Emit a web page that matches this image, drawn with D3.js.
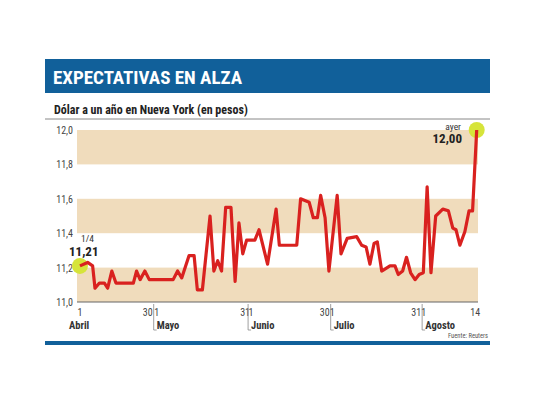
<!DOCTYPE html>
<html><head><meta charset="utf-8">
<script src="https://cdn.jsdelivr.net/npm/d3@7"></script>
<style>body{margin:0;background:#fff}text{font-family:"Roboto Condensed","Liberation Sans Narrow",Roboto,sans-serif}</style>
</head><body><div id="chart"></div>
<script>
// day index since Apr 1 (approx.) and value in pesos
const days = [1,3.6,5.3,6.1,7.6,9.3,10.4,11.8,13.2,19.1,20.2,21.4,23,24.5,32.6,34.1,35.5,38,39.7,40.8,42.5,45.1,46.4,47.7,49,50.4,52.2,53.6,54.9,56.2,57.5,60.3,61.7,64.6,67.5,68.6,74.5,75.8,78.7,80.1,81.5,82.6,84.1,85.4,88.2,89.5,91.6,94.8,96.5,98,99.3,100.7,101.8,103.3,106.1,107.8,108.9,110.4,111.7,113.1,114.6,116,117.4,118.7,120,121.6,124,125.9,127.4,128.5,129.8,131.5,132.9,134.1,135.5]
const values = [11.21,11.23,11.21,11.08,11.11,11.11,11.08,11.18,11.11,11.11,11.18,11.13,11.18,11.13,11.13,11.18,11.14,11.27,11.27,11.07,11.07,11.5,11.18,11.24,11.18,11.55,11.55,11.12,11.46,11.28,11.36,11.36,11.42,11.22,11.54,11.33,11.33,11.6,11.58,11.49,11.49,11.62,11.49,11.18,11.62,11.28,11.37,11.38,11.33,11.32,11.22,11.34,11.35,11.18,11.21,11.21,11.16,11.18,11.26,11.17,11.13,11.16,11.17,11.67,11.17,11.5,11.54,11.53,11.43,11.42,11.33,11.41,11.53,11.53,12.0]
const yTicks = [11.0, 11.2, 11.4, 11.6, 11.8, 12.0]
const bands = [[11.0, 11.2], [11.4, 11.6], [11.8, 12.0]]
const dayTicks = [[1,'1'],[24,'30'],[27,'1'],[57,'31'],[59,'1'],[84,'30'],[86.5,'1'],[115,'31'],[117.5,'1'],[135,'14']]
const months = [[1,'Abril'],[26,'Mayo'],[58,'Junio'],[86,'Julio'],[117,'Agosto']]
const dividers = [26, 58, 86, 117]

const W = 540, H = 405
const svg = d3.select('#chart').append('svg').attr('width', W).attr('height', H)
const x = d3.scaleLinear().domain([0, 135.5]).range([77, 476.7])
const y = d3.scaleLinear().domain([11, 12]).range([302, 130])
const fmt = v => d3.format('.1f')(v).replace('.', ',')

svg.append('rect').attrs = null
svg.append('rect').attr('x', 45).attr('y', 59).attr('width', 445).attr('height', 34).attr('fill', '#11609a')
svg.append('text').attr('x', 53).attr('y', 84).attr('fill', '#fff').attr('font-size', 19).attr('font-weight', 'bold').text('EXPECTATIVAS EN ALZA')
svg.append('text').attr('x', 54).attr('y', 114).attr('font-size', 12).attr('font-weight', 'bold').attr('fill', '#222').text('Dólar a un año en Nueva York (en pesos)')
svg.append('line').attr('x1', 45).attr('x2', 490).attr('y1', 119).attr('y2', 119).attr('stroke', '#888')

svg.selectAll('.band').data(bands).enter().append('rect')
  .attr('x', 77).attr('width', 401)
  .attr('y', d => y(d[1])).attr('height', d => y(d[0]) - y(d[1]))
  .attr('fill', '#f0dcbc')

svg.selectAll('.yl').data(yTicks).enter().append('text')
  .attr('x', 73).attr('y', d => y(d) + 4).attr('text-anchor', 'end')
  .attr('font-size', 10).attr('fill', '#444').text(fmt)

svg.append('line').attr('x1', 77).attr('x2', 478).attr('y1', y(11)).attr('y2', y(11)).attr('stroke', '#666')
svg.selectAll('.xl').data(dayTicks).enter().append('text')
  .attr('x', d => x(d[0])).attr('y', 316).attr('text-anchor', 'middle')
  .attr('font-size', 10).attr('fill', '#444').text(d => d[1])
svg.selectAll('.dv').data(dividers).enter().append('path')
  .attr('d', d => `M${x(d)},304V330H${x(d) + 3}`).attr('fill', 'none').attr('stroke', '#888').attr('stroke-width', 0.8)
svg.selectAll('.ml').data(months).enter().append('text')
  .attr('x', (d, i) => i === 0 ? 69 : x(d[0]) + 3).attr('y', 329)
  .attr('font-size', 10.5).attr('font-weight', 'bold').attr('fill', '#333').text(d => d[1])

const pts = days.map((d, i) => [d, values[i]])
const first = pts[0], last = pts[pts.length - 1]
svg.append('circle').attr('cx', x(first[0])).attr('cy', y(first[1])).attr('r', 8).attr('fill', '#d6e43a')
svg.append('circle').attr('cx', x(last[0])).attr('cy', y(last[1])).attr('r', 8).attr('fill', '#d6e43a')
svg.append('path').datum(pts)
  .attr('d', d3.line().x(d => x(d[0])).y(d => y(d[1])))
  .attr('fill', 'none').attr('stroke', '#d9211f').attr('stroke-width', 3.2).attr('stroke-linejoin', 'round')

svg.append('text').attr('x', 81).attr('y', 242).attr('font-size', 9.5).attr('fill', '#333').text('1/4')
svg.append('text').attr('x', 69).attr('y', 256).attr('font-size', 13).attr('font-weight', 'bold').attr('fill', '#222').text('11,21')
svg.append('text').attr('x', 461).attr('y', 130).attr('font-size', 9.5).attr('fill', '#333').attr('text-anchor', 'end').text('ayer')
svg.append('text').attr('x', 462).attr('y', 143).attr('font-size', 13).attr('font-weight', 'bold').attr('fill', '#222').attr('text-anchor', 'end').text('12,00')

svg.append('text').attr('x', 488).attr('y', 338).attr('font-size', 6.5).attr('fill', '#555').attr('text-anchor', 'end').text('Fuente: Reuters')
svg.append('rect').attr('x', 45).attr('y', 341).attr('width', 445).attr('height', 4).attr('fill', '#11609a')
</script></body></html>
